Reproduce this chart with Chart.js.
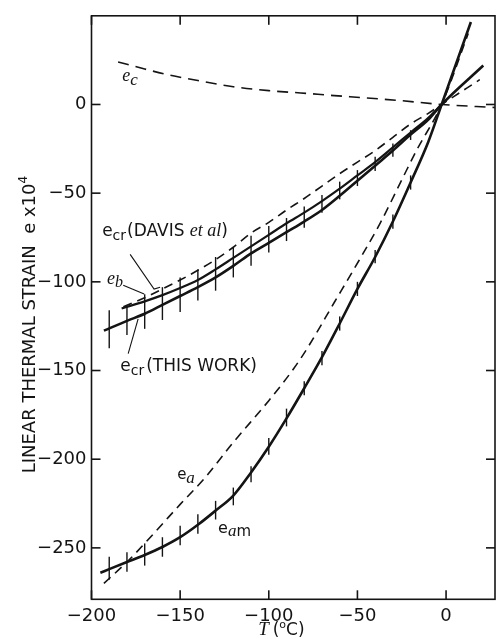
<!DOCTYPE html>
<html><head><meta charset="utf-8">
<script src="https://cdn.jsdelivr.net/npm/chart.js@4.4.0/dist/chart.umd.min.js"></script>
<style>html,body{margin:0;padding:0;background:#fff;}canvas{display:block}</style>
</head><body>
<canvas id="c" width="497" height="639"></canvas>
<script>
// ---- axis ticks ----
const xTicks = [-200, -150, -100, -50, 0];
const yTicks = [0, -50, -100, -150, -200, -250];

// ---- e_c (dashed) ----
const ecT = [-185, -170, -157, -140, -120, -100, -82, -63, -45, -26, -2.5, 27.5];
const ecE = [24, 20, 16.8, 13.5, 10, 7.8, 6.5, 5, 3.7, 2.2, 0, -1.7];

// ---- e_am (solid, with bars) ----
const eamT = [-195, -190, -180, -170, -160, -150, -140, -130, -120, -110, -100, -90, -80, -70, -60, -50, -40, -30, -20, -10, -2.5, 14];
const eamE = [-264, -262, -258, -254, -249.5, -244, -237, -229, -220.5, -207.5, -193, -177, -160, -142.5, -123.5, -104, -86, -66, -44, -21, 0, 46.5];

// ---- e_a (dashed) ----
const eaT = [-193, -179, -170, -160, -150, -136, -120, -100, -86, -78, -63, -53, -37, -24, -16.5, -2.5, 12.5];
const eaE = [-270, -257, -247.5, -236.5, -225.5, -210.5, -190.5, -167, -149, -137, -111.5, -94.6, -66.6, -40.5, -25.6, 0, 40];

// ---- e_cr this work (solid) ----
const ecrT = [-193, -180, -170, -160, -150, -140, -130, -120, -110, -100, -90, -80, -70, -60, -50, -40, -30, -20, -10, -2.5, 21];
const ecrE = [-127.5, -122, -118, -113, -108, -103, -97.5, -91, -84, -78, -72, -66, -59.5, -51.5, -43, -34.5, -26, -17, -8.5, 0, 22];

// ---- e_b (solid) ----
const ebT = [-183, -170, -160, -150, -140, -130, -120, -110, -100, -90, -80, -70, -60, -50, -40, -30, -20, -10, -2.5];
const ebE = [-115, -111, -107.5, -103.5, -99, -93, -86.5, -80, -73.5, -67, -61, -54.5, -47.5, -40, -32.5, -24.2, -15.8, -7.5, 0];

// ---- e_cr Davis et al (dashed) ----
const davisT = [-182, -170, -160, -150, -140, -130, -120, -110, -100, -90, -80, -70, -60, -50, -40, -30, -20, -10, -2.5, 19];
const davisE = [-114, -109, -104, -99, -93.5, -87.5, -80.5, -72.5, -66.5, -59.5, -53, -46, -39, -32.5, -26, -18.5, -11, -5, 0, 14];

// ---- error bars ----
const crBarT  = [-190, -180, -170, -160, -150, -140, -130, -120, -110, -100, -90, -80, -70, -60, -50, -40, -30, -20];
const crBarLo = [-137.5, -130, -126.5, -121.5, -117, -110.5, -105, -97.5, -91, -83.5, -77, -69.5, -61, -53.5, -46, -37.5, -29.5, -20];
const crBarHi = [-116, -114, -107, -103, -97.5, -93, -86, -80.5, -74, -68.5, -64, -57.5, -51, -43.5, -37, -29.5, -22, -14.5];

const amBarT  = [-190, -180, -170, -160, -150, -140, -130, -120, -110, -100, -90, -80, -70, -60, -50, -40, -30, -20];
const amBarLo = [-268, -263.5, -260, -255, -248.5, -242, -234, -226, -213, -197.5, -181.5, -164, -147, -127.5, -108, -89.5, -70, -48];
const amBarHi = [-255, -252.5, -247.5, -244, -237.5, -231, -223.5, -216, -204, -188, -171.5, -156, -139, -119.5, -100, -82, -62, -40];

const pts = (T, E) => T.map((t, i) => ({x: t, y: E[i]}));
const INK = '#141414';
const SANS = '"DejaVu Sans"';
const SERIF = '"Liberation Serif"';

function solid(T, E, w) {
  return {data: pts(T, E), borderColor: INK, borderWidth: w, pointRadius: 0, fill: false, cubicInterpolationMode: 'monotone'};
}
function dashed(T, E, dash) {
  return {data: pts(T, E), borderColor: INK, borderWidth: 1.6, borderDash: dash, pointRadius: 0, fill: false, cubicInterpolationMode: 'monotone'};
}

function drawParts(ctx, x, y, parts) {
  let cx = x;
  for (const p of parts) {
    ctx.font = p.f;
    ctx.fillText(p.t, cx, y + (p.dy || 0));
    cx += ctx.measureText(p.t).width + (p.gap || 0);
  }
}

const labels = [
  {T: -182.7, e: 13.4, parts: [{t: 'e', f: 'italic 18px ' + SERIF}, {t: 'c', f: 'italic 17px ' + SERIF, dy: 4}]},
  {T: -194.0, e: -74.0, parts: [{t: 'e', f: '17px ' + SANS}, {t: 'cr', f: '14px ' + SANS, dy: 4, gap: 1}, {t: '(DAVIS ', f: '17px ' + SANS}, {t: 'et al', f: 'italic 18px ' + SERIF}, {t: ')', f: '17px ' + SANS}]},
  {T: -191.2, e: -101.3, parts: [{t: 'e', f: 'italic 18px ' + SERIF}, {t: 'b', f: 'italic 16px ' + SERIF, dy: 3}]},
  {T: -183.8, e: -150.0, parts: [{t: 'e', f: '17px ' + SANS}, {t: 'cr', f: '14px ' + SANS, dy: 4, gap: 2}, {t: '(THIS WORK)', f: '17px ' + SANS}]},
  {T: -151.7, e: -211.0, parts: [{t: 'e', f: '15px ' + SANS}, {t: 'a', f: 'italic 17px ' + SERIF, dy: 4}]},
  {T: -128.6, e: -241.8, parts: [{t: 'e', f: '16px ' + SANS}, {t: 'a', f: 'italic 17px ' + SERIF, dy: 3}, {t: 'm', f: '15px ' + SANS, dy: 3}]}
];
const leaders = [
  [[-178.2, -84.5], [-164.7, -104.1], [-161.3, -103.0]],
  [[-182.1, -101.9], [-170.3, -106.9]],
  [[-173.7, -120.9], [-179.3, -140.5]]
];

const decor = {
  id: 'decor',
  afterDatasetsDraw(chart) {
    const {ctx, chartArea: a} = chart;
    const x = chart.scales.x, y = chart.scales.y;
    ctx.save();
    ctx.strokeStyle = INK; ctx.fillStyle = INK; ctx.setLineDash([]);
    const line = (x1, y1, x2, y2) => { ctx.beginPath(); ctx.moveTo(x1, y1); ctx.lineTo(x2, y2); ctx.stroke(); };
    // error bars
    ctx.lineWidth = 1.4;
    const bars = (T, lo, hi) => {
      for (let i = 0; i < T.length; i++) {
        const px = x.getPixelForValue(T[i]);
        line(px, y.getPixelForValue(lo[i]), px, y.getPixelForValue(hi[i]));
      }
    };
    bars(crBarT, crBarLo, crBarHi);
    bars(amBarT, amBarLo, amBarHi);
    // frame
    ctx.lineWidth = 1.6;
    ctx.strokeRect(a.left, a.top, a.right - a.left, a.bottom - a.top);
    const L = 9;
    xTicks.forEach(v => { const px = x.getPixelForValue(v); line(px, a.bottom, px, a.bottom - L); line(px, a.top, px, a.top + L); });
    yTicks.forEach(v => { const py = y.getPixelForValue(v); line(a.left, py, a.left + L, py); line(a.right, py, a.right - L, py); });
    // leaders
    ctx.lineWidth = 1.1;
    leaders.forEach(pl => {
      ctx.beginPath();
      pl.forEach((p, i) => { const px = x.getPixelForValue(p[0]), py = y.getPixelForValue(p[1]); if (i) ctx.lineTo(px, py); else ctx.moveTo(px, py); });
      ctx.stroke();
    });
    // curve labels
    ctx.textBaseline = 'alphabetic'; ctx.textAlign = 'left';
    labels.forEach(l => drawParts(ctx, x.getPixelForValue(l.T), y.getPixelForValue(l.e), l.parts));
    // axis titles
    drawParts(ctx, x.getPixelForValue(-106), a.bottom + 36, [
      {t: 'T', f: 'italic 19px ' + SERIF, gap: 4}, {t: '(', f: '17px ' + SANS}, {t: 'o', f: '11px ' + SANS, dy: -7}, {t: 'C)', f: '17px ' + SANS}
    ]);
    ctx.save();
    ctx.translate(a.left - 56.5, a.bottom - 126);
    ctx.rotate(-Math.PI / 2);
    drawParts(ctx, 0, 0, [
      {t: 'LINEAR THERMAL STRAIN  e x10', f: '18px ' + SANS}, {t: '4', f: '12px ' + SANS, dy: -8}
    ]);
    ctx.restore();
    ctx.restore();
  }
};

Chart.defaults.font.family = SANS;
Chart.defaults.color = INK;

new Chart(document.getElementById('c'), {
  type: 'line',
  data: {
    datasets: [
      dashed(ecT, ecE, [11, 7]),
      solid(eamT, eamE, 2.6),
      dashed(eaT, eaE, [9, 6]),
      solid(ecrT, ecrE, 2.6),
      solid(ebT, ebE, 2.2),
      dashed(davisT, davisE, [9, 6])
    ]
  },
  options: {
    responsive: false,
    animation: false,
    devicePixelRatio: 1,
    layout: {padding: {top: 12, right: 2, left: 0, bottom: 0}},
    plugins: {legend: {display: false}, tooltip: {enabled: false}},
    scales: {
      x: {
        type: 'linear', min: -200, max: 27.6,
        grid: {display: false, drawTicks: false}, border: {display: false},
        afterBuildTicks: s => { s.ticks = xTicks.map(v => ({value: v})); },
        afterFit: s => { s.height = 39.7; },
        ticks: {autoSkip: false, maxRotation: 0, padding: 6, font: {size: 18},
          callback: v => v < 0 ? '\u2212' + Math.abs(v) : String(v)}
      },
      y: {
        type: 'linear', min: -279, max: 50,
        grid: {display: false, drawTicks: false}, border: {display: false},
        afterBuildTicks: s => { s.ticks = yTicks.map(v => ({value: v})); },
        afterFit: s => { s.width = 91.5; },
        ticks: {autoSkip: false, padding: 5, font: {size: 18},
          callback: v => v < 0 ? '\u2212' + Math.abs(v) : String(v)}
      }
    }
  },
  plugins: [decor]
});
</script>
</body></html>
